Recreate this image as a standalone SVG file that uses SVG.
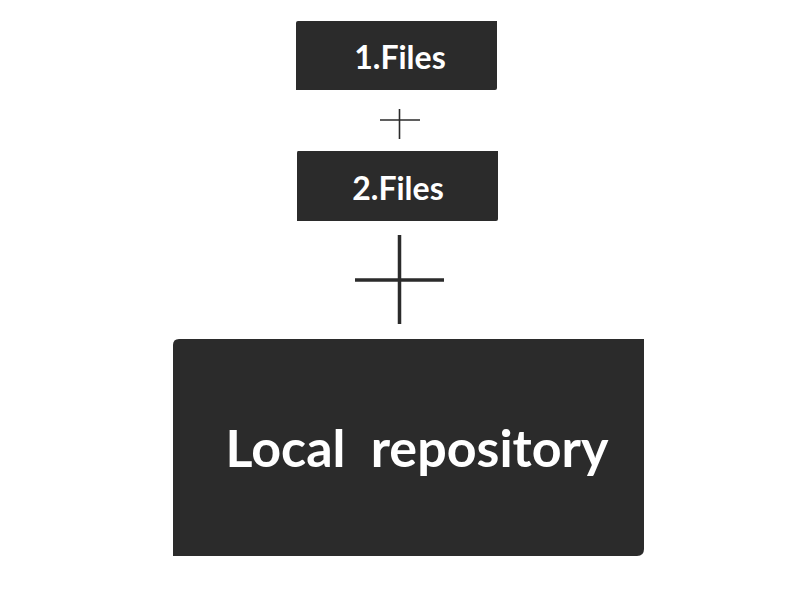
<svg xmlns="http://www.w3.org/2000/svg" width="800" height="600" viewBox="0 0 800 600">
<style>
.box{fill:#2b2b2b}
.t{fill:#ffffff;font-family:Lato,"Liberation Sans",sans-serif;font-weight:bold;text-anchor:middle}
.plus{stroke:#2b2b2b;fill:none}
</style>
<rect width="800" height="600" fill="#ffffff"/>
<g id="files1">
<path class="box" d="M298,21 H497 V88 Q497,90 495,90 H296 V23 Q296,21 298,21 Z"/>
<text class="t" x="400" y="69" font-size="32">1.Files</text>
</g>
<g id="files2">
<path class="box" d="M298,151 H498 V219 Q498,221 496,221 H297 V153 Q297,151 298,151 Z"/>
<text class="t" x="398" y="200" font-size="32">2.Files</text>
</g>
<g id="connectors">
<path class="plus" stroke-width="1.6" d="M399.5,109 V139 M380,120 H420"/>
<path class="plus" stroke-width="3.5" d="M399.5,235 V324 M355,280 H444"/>
</g>
<g id="local-repository">
<path class="box" d="M179,339 H644 V549 Q644,556 637,556 H173 V345 Q173,339 179,339 Z"/>
<text class="t" x="417" y="467" font-size="52" xml:space="preserve">Local  repository</text>
</g>
</svg>
